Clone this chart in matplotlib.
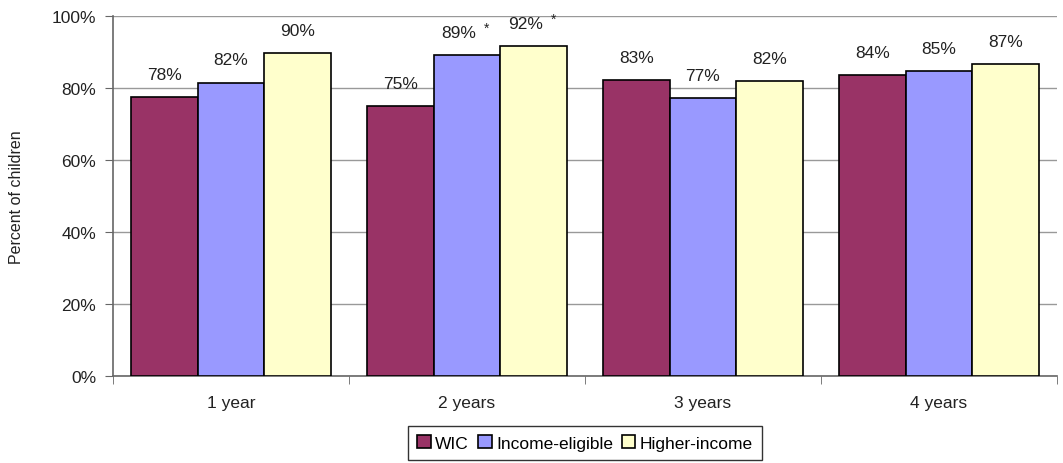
"""Bar chart: percent of children by age group and income group."""

import matplotlib.pyplot as plt
import numpy as np

plt.rcParams["font.family"] = ["Liberation Sans Narrow", "Liberation Sans", "DejaVu Sans"]
plt.rcParams["font.size"] = 12.5

ages = ["1 year", "2 years", "3 years", "4 years"]
series_names = ["WIC", "Income-eligible", "Higher-income"]
# bar heights, labels as printed
wic = [77.5, 75.0, 82.2, 83.6]
income_eligible = [81.5, 89.2, 77.2, 84.7]
higher_income = [89.7, 91.7, 81.9, 86.7]
wic_labels = [78, 75, 83, 84]
income_eligible_labels = [82, 89, 77, 85]
higher_income_labels = [90, 92, 82, 87]
income_eligible_star = [False, True, False, False]
higher_income_star = [False, True, False, False]

colors = ["#993366", "#9999FF", "#FFFFCC"]
y_ticks = [0, 20, 40, 60, 80, 100]


def main() -> None:
    fig = plt.figure(figsize=(10.63, 4.64), dpi=100)
    ax = fig.add_axes([113 / 1063, 1 - 377 / 464, (1057 - 113) / 1063, (377 - 17) / 464])

    x = np.arange(len(ages))
    width = 0.283
    values = [wic, income_eligible, higher_income]
    labels = [wic_labels, income_eligible_labels, higher_income_labels]
    stars = [[False] * len(ages), income_eligible_star, higher_income_star]

    handles = []
    for i, (vals, labs, st) in enumerate(zip(values, labels, stars)):
        xs = x + (i - 1) * width
        bars = ax.bar(xs, vals, width=width, color=colors[i], edgecolor="black",
                      linewidth=1.2, label=series_names[i], zorder=3)
        handles.append(bars)
        for xi, v, lab, s in zip(xs, vals, labs, st):
            ax.annotate(f"{lab}%", xy=(xi, v), xytext=(-6 if s else 0, 11),
                        textcoords="offset points", ha="center", va="bottom",
                        color="#222222")
            if s:
                ax.annotate("*", xy=(xi, v), xytext=(14, 14.5),
                            textcoords="offset points", ha="center", va="bottom",
                            fontsize=10, color="#222222")

    ax.set_xlim(-0.5, len(ages) - 0.5)
    ax.set_ylim(0, 100)
    ax.set_yticks(y_ticks)
    ax.set_yticklabels([f"{t}%" for t in y_ticks], color="#222222")
    ax.yaxis.grid(True, color="#999999", linewidth=1.0, zorder=0)
    ax.set_axisbelow(True)

    ax.set_xticks(x)
    ax.set_xticklabels(ages, color="#222222")
    ax.tick_params(axis="x", length=0, pad=14)
    ax.set_xticks(np.arange(len(ages) + 1) - 0.5, minor=True)
    ax.tick_params(axis="x", which="minor", length=6, color="#666666", direction="out")
    ax.tick_params(axis="y", length=6, color="#666666", direction="out", pad=6)

    for side in ["top", "right"]:
        ax.spines[side].set_visible(False)
    for side in ["left", "bottom"]:
        ax.spines[side].set_color("#666666")
        ax.spines[side].set_linewidth(1.2)

    ax.set_ylabel("Percent of children", fontsize=11.5, color="#222222", labelpad=20)

    leg = fig.legend(handles=handles, labels=series_names, loc="center",
                     bbox_to_anchor=(585 / 1063, 1 - 444 / 464), ncol=3,
                     frameon=True, fancybox=False, handlelength=0.8,
                     handleheight=0.8, handletextpad=0.25, columnspacing=0.5,
                     borderpad=0.5, fontsize=12.5)
    leg.get_frame().set_edgecolor("black")
    leg.get_frame().set_linewidth(1.0)

    fig.savefig("out.png", dpi=100)
    plt.close(fig)


if __name__ == "__main__":
    main()
